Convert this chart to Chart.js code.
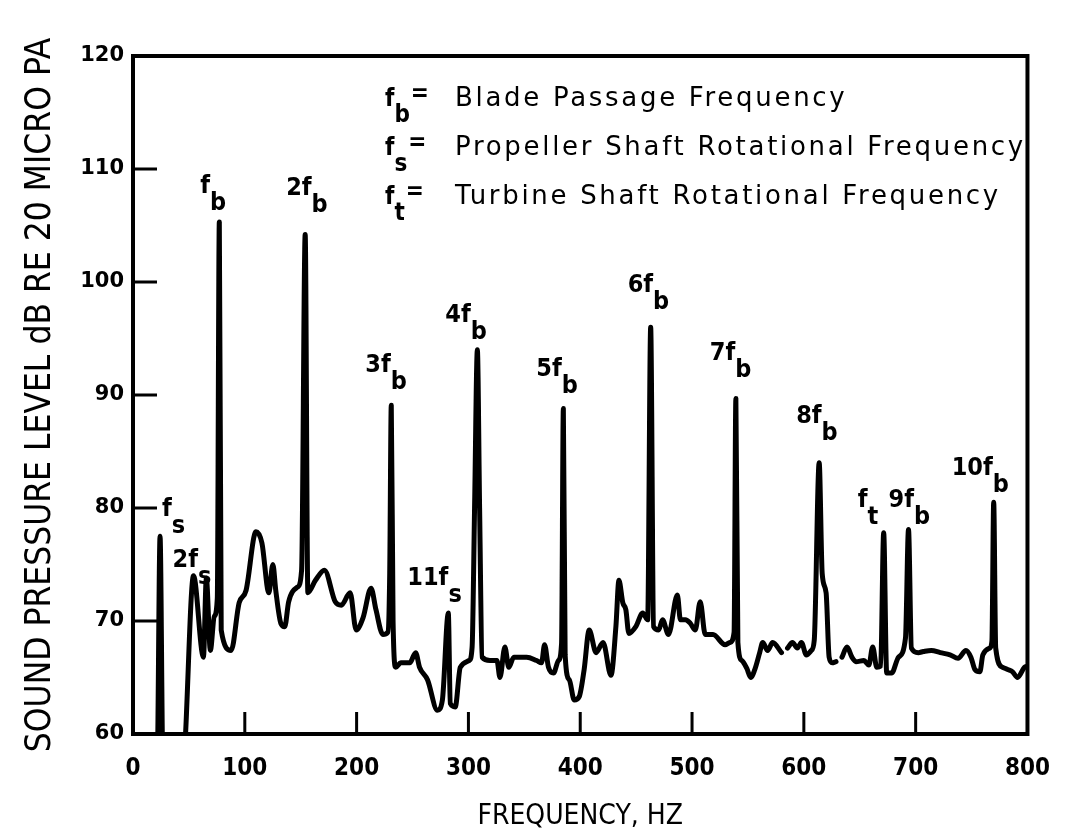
<!DOCTYPE html>
<html>
<head>
<meta charset="utf-8">
<script src="https://cdn.jsdelivr.net/npm/chart.js@4.4.0/dist/chart.umd.min.js"></script>
<style>
  html, body { margin: 0; padding: 0; background: #fff; }
  #wrap { width: 1070px; height: 836px; }
</style>
</head>
<body>
<div id="wrap"><canvas id="spectrum" width="1070" height="836"></canvas></div>
<script>
// Traced narrowband spectrum: frequency (Hz) and level (dB re 20 uPa). null = pen lift.
const freqHz = [
  22.2, 24.2, 26.2, 36.0,
  47.0, 54.1, 63.0, 65.6, 69.2, 72.7, 75.4, 77.2, 78.9, 87.8, 94.9, 101.1,
  110.0, 115.3, 121.5, 125.1, 127.7, 132.2, 135.7, 139.2, 147.2, 150.8, 154.0, 156.4,
  163.2, 171.2, 180.9, 186.3, 194.2, 199.6, 205.8, 212.9, 217.3, 223.5, 227.9, 229.6,
  231.0, 232.6, 235.0, 239.5, 247.5, 252.8, 256.3, 263.4, 272.3, 276.7, 282.0, 283.8, 288.2,
  292.7, 300.7, 303.3, 305.5, 308.0, 310.0, 312.2, 319.3, 325.5, 328.2, 332.6, 336.1,
  340.6, 352.1, 361.0, 365.4, 368.1, 371.6, 376.1, 380.5, 383.3, 384.9, 386.5, 390.2, 394.7, 399.1,
  403.5, 408.0, 414.2, 420.4, 427.5, 431.9, 434.6, 438.1, 440.8, 443.5, 449.7, 455.9,
  460.3, 463.0, 465.6, 470.1, 473.6, 478.9, 486.9, 489.6, 494.0, 498.4, 502.9, 507.3,
  511.8, 518.8, 529.5, 533.9, 537.6, 539.2, 541.0, 544.6, 549.0, 552.5, 556.1, 560.5, 563.2,
  567.6, 572.1, 580.0, 582.5, 585.4, 589.8, 594.2, 597.8, 602.2, 606.7, 609.3, 613.7,
  616.4, 619.9, 622.6, 625.3, 628.8, 631.5, 634.1, 638.6, 643.0, 646.6, 653.7, 658.1,
  661.6, 665.2, 668.7, 671.4, 674.1, 678.5, 684.7, 690.9, 693.6, 696.2, 702.4, 706.9,
  714.0, 722.0, 730.8, 737.9, 745.0, 749.4, 753.0, 757.4, 760.1, 766.3, 768.2, 769.8, 771.6,
  777.8, 782.3, 786.7, 791.1, 797.3, 800.0
];
const levelDb = [
  60.0, 77.5, 60.0, null,
  60.0, 74.0, 66.8, 73.8, 67.4, 70.4, 72.0, 105.3, 69.2, 67.4, 71.6, 72.7,
  77.9, 76.9, 72.5, 75.0, 72.7, 69.8, 69.5, 71.7, 73.0, 74.5, 104.2, 72.5,
  73.6, 74.5, 71.7, 71.4, 72.5, 69.2, 70.3, 72.9, 71.0, 68.8, 69.0, 74.2,
  89.1, 70.0, 65.9, 66.3, 66.3, 67.2, 65.9, 64.8, 62.1, 63.0, 70.7, 62.7, 62.4,
  65.9, 66.5, 67.7, 80.0, 94.0, 80.0, 66.8, 66.5, 66.5, 65.0, 67.7, 65.9,
  66.8, 66.8, 66.5, 66.3, 67.9, 65.9, 65.4, 66.5, 68.0, 88.8, 67.0, 64.8, 63.0, 63.3,
  65.7, 69.2, 67.2, 68.1, 65.2, 69.5, 73.6, 71.6, 71.0, 68.9, 69.5, 70.7,
  70.1, 96.0, 69.5, 69.2, 70.1, 68.8, 72.3, 70.1, 70.1, 69.8, 69.2, 71.7,
  68.8, 68.8, 67.9, 68.1, 69.0, 89.7, 68.1, 66.5, 65.8, 65.0, 65.7, 67.2, 68.1,
  67.4, 68.1, 67.2, null, 67.6, 68.1, 67.6, 68.1, 67.0, 67.4, 68.3, 84.0,
  74.2, 72.5, 66.8, 66.3, 66.4, null, 66.8, 67.7, 66.8, 66.4, 66.5, 66.1,
  67.7, 65.9, 66.0, 77.8, 65.4, 65.4, 66.8, 68.5, 78.1, 67.6, 67.2, 67.3,
  67.4, 67.2, 67.0, 66.7, 67.4, 66.8, 65.7, 65.5, 67.0, 67.6, 68.2, 80.5, 67.6,
  65.9, 65.7, 65.5, 65.0, 65.9, 66.0
];

// Axis ranges and the inward tick marks on the frame
const freqTicks = [0, 100, 200, 300, 400, 500, 600, 700, 800];
const levelTicks = [60, 70, 80, 90, 100, 110, 120];
const innerFreqTicks = [100, 200, 300, 400, 500, 600, 700];
const innerLevelTicks = [70, 80, 90, 100, 110];

// Labelled tones: name, subscript, frequency of the peak it sits on
const toneNames = ['f', '2f', 'f', '2f', '3f', '4f', '11f', '5f', '6f', '7f', '8f', 'f', '9f', '10f'];
const toneSubs = ['s', 's', 'b', 'b', 'b', 'b', 's', 'b', 'b', 'b', 'b', 't', 'b', 'b'];
const toneFreqs = [24.2, 54.1, 77.2, 154.0, 231.0, 308.0, 282.0, 384.9, 463.0, 539.2, 613.7, 671.4, 693.6, 769.8];

// Key in the upper right of the plot
const keySubs = ['b', 's', 't'];
const keyTexts = ['Blade Passage Frequency', 'Propeller Shaft Rotational Frequency', 'Turbine Shaft Rotational Frequency'];

// label placement relative to each peak top (px)
const toneOffsets = [
  [2, -20], [-21, -9], [-19, -29], [-19, -40], [-26, -33], [-32, -28], [-41, -28],
  [-27, -33], [-23, -35], [-26, -38], [-23, -40], [-26, -26], [-20, -22], [-42, -27]
];

const points = freqHz.map((f, i) => ({ x: f, y: levelDb[i] }));

function levelAt(f) {
  const i = freqHz.indexOf(f);
  return i >= 0 ? levelDb[i] : null;
}

function drawSub(ctx, main, sub, x, base, drop) {
  ctx.fillText(main, x, base);
  const w = ctx.measureText(main).width;
  ctx.fillText(sub, x + w, base + drop);
  return x + w + ctx.measureText(sub).width;
}

const framePlugin = {
  id: 'frame',
  afterDatasetsDraw(chart) {
    const { ctx, chartArea: a, scales: { x, y } } = chart;
    ctx.save();
    ctx.strokeStyle = '#000';
    ctx.lineWidth = 3;
    ctx.beginPath();
    innerFreqTicks.forEach(v => {
      const px = x.getPixelForValue(v);
      ctx.moveTo(px, a.bottom);
      ctx.lineTo(px, a.bottom - 22);
    });
    innerLevelTicks.forEach(v => {
      const py = y.getPixelForValue(v);
      ctx.moveTo(a.left, py);
      ctx.lineTo(a.left + 24, py);
    });
    ctx.stroke();
    ctx.lineWidth = 4;
    ctx.strokeRect(a.left, a.top, a.right - a.left, a.bottom - a.top);
    ctx.restore();
  }
};

const labelPlugin = {
  id: 'toneLabels',
  afterDraw(chart) {
    const { ctx, chartArea: a, scales: { x, y } } = chart;
    ctx.save();
    ctx.fillStyle = '#000';
    ctx.textAlign = 'left';
    ctx.textBaseline = 'alphabetic';

    ctx.font = "bold 25px 'DejaVu Sans Condensed'";
    toneNames.forEach((name, i) => {
      const px = x.getPixelForValue(toneFreqs[i]);
      const py = y.getPixelForValue(levelAt(toneFreqs[i]));
      const [dx, dy] = toneOffsets[i];
      drawSub(ctx, name, toneSubs[i], px + dx, py + dy, 17);
    });

    // key
    const kx = a.left + 252;
    keySubs.forEach((s, i) => {
      const base = a.top + 50 + i * 49;
      ctx.font = "bold 24px 'DejaVu Sans Condensed'";
      ctx.letterSpacing = '0px';
      const end = drawSub(ctx, 'f', s, kx, base, 16);
      ctx.fillText('=', end + 1, base - 5);
      ctx.font = "26px 'DejaVu Sans'";
      ctx.letterSpacing = '2.7px';
      ctx.fillText(keyTexts[i], kx + 70, base);
    });
    ctx.restore();
  }
};

new Chart(document.getElementById('spectrum'), {
  type: 'line',
  data: {
    datasets: [{
      data: points,
      borderColor: '#000',
      borderWidth: 5,
      borderJoinStyle: 'round',
      borderCapStyle: 'round',
      pointRadius: 0,
      cubicInterpolationMode: 'monotone',
      spanGaps: false,
      fill: false
    }]
  },
  options: {
    responsive: false,
    devicePixelRatio: 1,
    animation: false,
    layout: { padding: { top: 56, right: 35, left: 0, bottom: 0 } },
    plugins: { legend: { display: false }, tooltip: { enabled: false } },
    scales: {
      x: {
        type: 'linear',
        min: freqTicks[0],
        max: freqTicks[freqTicks.length - 1],
        afterBuildTicks: s => { s.ticks = freqTicks.map(v => ({ value: v })); },
        afterFit: s => { s.height = 102; },
        grid: { display: false, drawTicks: false },
        border: { display: false },
        ticks: {
          color: '#000',
          padding: 20,
          maxRotation: 0,
          font: { family: "'DejaVu Sans Condensed'", size: 24, weight: 'bold' }
        },
        title: {
          display: true,
          text: 'FREQUENCY, HZ',
          color: '#000',
          padding: { top: 2, bottom: 2 },
          font: { family: "'DejaVu Sans Condensed'", size: 28 }
        }
      },
      y: {
        type: 'linear',
        min: levelTicks[0],
        max: levelTicks[levelTicks.length - 1],
        afterBuildTicks: s => { s.ticks = levelTicks.map(v => ({ value: v })); },
        afterFit: s => { s.width = 133; },
        grid: { display: false, drawTicks: false },
        border: { display: false },
        ticks: {
          color: '#000',
          padding: 9,
          font: { family: "'DejaVu Sans'", size: 21, weight: 'bold' }
        },
        title: {
          display: true,
          text: 'SOUND PRESSURE LEVEL dB RE 20 MICRO PA',
          color: '#000',
          padding: { top: 20, bottom: 20 },
          font: { family: "'DejaVu Sans Condensed'", size: 35 }
        }
      }
    }
  },
  plugins: [framePlugin, labelPlugin]
});
</script>
</body>
</html>
